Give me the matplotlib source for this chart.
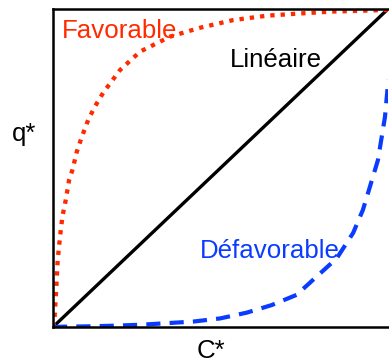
import matplotlib
matplotlib.use("Agg")
import matplotlib.pyplot as plt

plt.rcParams['font.family'] = ['Liberation Sans', 'DejaVu Sans']

# values (C*, q* normalised to 0..1)
lin_c = [0.0, 1.0]
lin_q = [0.0, 1.0]

fav_c = [0.0, 0.004, 0.009, 0.014, 0.021, 0.028, 0.038, 0.048, 0.058, 0.071, 0.086,
         0.105, 0.125, 0.150, 0.200, 0.260, 0.349, 0.439, 0.537, 0.639, 0.737, 0.836, 1.0]
fav_q = [0.0, 0.017, 0.107, 0.211, 0.284, 0.347, 0.399, 0.462, 0.494, 0.551, 0.598,
         0.651, 0.693, 0.737, 0.808, 0.866, 0.913, 0.941, 0.965, 0.979, 0.986, 0.992, 0.997]

unf_c = [0.0, 0.031, 0.101, 0.179, 0.260, 0.339, 0.418, 0.499, 0.578, 0.653, 0.727,
         0.776, 0.847, 0.896, 0.925, 0.946, 0.970, 0.991, 1.001]
unf_q = [0.0, 0.001, 0.002, 0.004, 0.007, 0.012, 0.017, 0.027, 0.045, 0.069, 0.101,
         0.148, 0.216, 0.296, 0.368, 0.441, 0.525, 0.661, 0.777]

red = '#FF2A00'
blue = '#0A3CFF'

fig = plt.figure(figsize=(3.89, 3.63), dpi=100)
ax = fig.add_axes([53/389, 36/363, 335/389, 318/363])

ax.plot(lin_c, lin_q, color='black', lw=2.4, solid_capstyle='butt')
ax.plot(fav_c, fav_q, color=red, lw=3.1, linestyle=(0, (1, 1.4)))
ax.plot(unf_c, unf_q, color=blue, lw=3.0, linestyle=(0, (3.4, 2.2)))

ax.text(0.027, 0.909, 'Favorable', color=red, fontsize=18.6, va='baseline')
ax.text(0.528, 0.818, 'Linéaire', color='black', fontsize=18.6, va='baseline')
ax.text(0.439, 0.217, 'Défavorable', color=blue, fontsize=18.6, va='baseline')

fig.text(12/389, (363-141)/363, 'q*', fontsize=18.6, va='baseline')
fig.text(197/389, 5/363, 'C*', fontsize=18.6, va='baseline')

ax.set_xlim(0, 1)
ax.set_ylim(0, 1)
ax.set_xticks([])
ax.set_yticks([])
ax.spines['right'].set_visible(False)
for s in ['left', 'bottom', 'top']:
    ax.spines[s].set_linewidth(1.8)

fig.savefig('out.png', dpi=100)
